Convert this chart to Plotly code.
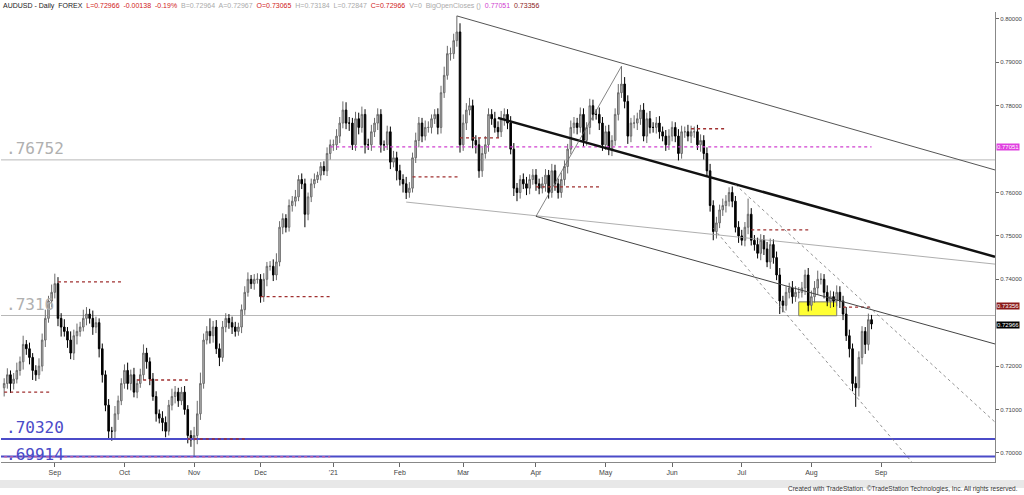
import pandas as pd
import plotly.graph_objects as go

# ---- daily closes, per month ----
aug20 = [.716,.718,.716,.717,.719,.721,.725,.724,.722,.719,.718,.720,.726,.731,.735,.737]
sep20 = [.739,.731,.729,.728,.726,.723,.727,.728,.729,.731,.732,.731,.729,.730,.724,.718,.711,.705,.705,.709,.712,.716]
oct20 = [.719,.716,.718,.714,.716,.718,.723,.721,.717,.713,.709,.708,.707,.705,.711,.713,.714,.712,.714,.710,.704,.703]
nov20 = [.704,.709,.716,.726,.728,.727,.729,.724,.722,.729,.731,.730,.729,.728,.729,.733,.737,.740,.739,.740,.740]
dec20 = [.736,.740,.743,.743,.741,.744,.752,.754,.752,.757,.758,.759,.763,.762,.755,.759,.762,.763,.764,.766,.765,.769,.771]
jan21 = [.771,.773,.776,.779,.776,.776,.771,.777,.775,.778,.771,.771,.774,.776,.778,.771,.771,.774,.767,.768,.765]
feb21 = [.763,.762,.760,.761,.768,.772,.776,.773,.775,.775,.777,.778,.775,.783,.787,.792,.792,.795,.797,.771]
mar21 = [.776,.779,.780,.772,.771,.765,.769,.771,.778,.777,.775,.774,.777,.778,.776,.770,.761,.760,.763,.762,.761,.763,.764]
apr21 = [.762,.761,.762,.764,.760,.765,.762,.760,.763,.766,.770,.775,.776,.775,.778,.772,.775,.780,.778,.778,.776,.771]
may21 = [.774,.770,.772,.778,.783,.785,.781,.773,.776,.776,.777,.779,.773,.777,.775,.775,.776,.774,.773,.771,.773]
jun21 = [.775,.773,.769,.774,.774,.773,.774,.774,.771,.772,.769,.765,.757,.751,.753,.756,.757,.758,.760,.758,.752,.750]
jul21 = [.749,.752,.755,.749,.748,.746,.749,.747,.744,.748,.745,.741,.735,.734,.737,.738,.736,.737,.737,.738,.741,.734]
aug21 = [.736,.738,.740,.740,.737,.735,.736,.735,.737,.735,.732,.727,.724,.716,.715,.722,.728,.725,.7307,.7297]

# upper / lower wick lengths in pips beyond the candle body
up_wick = [
 [12,15,10,14,18,12,20,10,14,10,12,18,15,20,12,18],
 [23,15,12,18,10,20,14,18,12,20,16,12,18,14,10,12,10,14,10,18,12,12],
 [14,18,12,16,10,14,20,12,10,14,12,10,16,14,12,18,14,10,12,14,10,12],
 [20,30,25,15,12,30,14,16,12,14,12,10,14,12,10,12,14,16,10,12,14],
 [12,14,10,12,16,20,14,12,10,14,12,16,10,14,12,10,12,14,8,10,12,14,12],
 [12,16,14,20,18,14,12,16,14,18,12,14,16,12,14,12,10,14,12,16,14],
 [14,12,16,14,12,18,14,12,16,14,10,12,14,16,20,18,14,16,37,20],
 [20,16,18,14,12,16,14,20,14,12,16,14,18,14,12,16,14,12,10,14,16,12,14],
 [14,12,16,14,12,16,14,12,16,14,12,16,14,12,16,14,12,16,14,12,16,14],
 [14,16,12,14,20,41,16,14,12,18,14,12,16,14,18,12,14,16,12,14,16],
 [14,12,16,14,12,16,14,12,16,14,12,14,16,12,14,12,16,14,12,14,12,14],
 [14,12,36,14,12,16,14,12,16,14,12,14,16,12,14,12,16,14,12,14,12,16],
 [14,16,20,14,12,16,14,12,16,14,12,16,14,12,16,14,12,10,14,11],
]
dn_wick = [
 [20,12,22,14,10,12,18,14,16,22,14,10,12,16,10,14],
 [14,18,22,12,18,14,16,20,12,10,16,12,18,14,20,18,14,16,22,18,14,10],
 [12,14,16,12,14,10,12,16,14,10,18,12,20,14,10,12,16,14,10,12,18,16],
 [39,20,14,12,10,18,16,12,20,10,12,14,16,12,10,14,12,10,12,14,10],
 [14,12,16,10,14,12,10,16,12,10,14,12,10,12,30,14,12,10,8,12,10,12,14],
 [14,12,16,12,14,18,12,14,16,12,20,12,14,12,16,18,14,12,16,12,22],
 [14,20,15,12,10,12,16,14,10,12,14,12,16,14,12,10,16,12,14,18],
 [14,16,12,18,20,16,14,12,16,14,12,14,12,16,14,12,18,20,14,12,16,14,12],
 [16,14,12,18,14,12,16,14,12,14,16,12,14,16,12,14,12,16,14,12,16,14],
 [12,14,16,12,14,12,16,18,14,12,16,14,12,16,14,12,14,16,12,14,12],
 [12,14,16,12,14,12,16,14,12,16,14,12,14,20,16,12,14,16,12,14,12,16],
 [12,14,16,12,14,12,16,14,12,16,14,12,30,16,12,14,16,12,14,12,16,14],
 [12,14,16,12,14,12,16,14,12,16,14,12,20,18,44,20,16,22,14,12],
]
first_open = 0.715
start_date = "2020-08-10"

tick_dates = ["2020-09-01","2020-10-01","2020-11-02","2020-12-01","2021-01-01","2021-02-01",
              "2021-03-01","2021-04-01","2021-05-03","2021-06-01","2021-07-01","2021-08-02","2021-09-01"]
tick_text = ["Sep","Oct","Nov","Dec","'21","Feb","Mar","Apr","May","Jun","Jul","Aug","Sep"]
y_ticks = [0.70, 0.71, 0.72, 0.74, 0.75, 0.76, 0.78, 0.79, 0.80]

# horizontal key levels
gray_levels = [0.76752, 0.73166]
blue_levels = [0.70320, 0.69914]
magenta_level = (["2020-12-31", "2021-08-27"], 0.77051)
red_seg_start = ["2020-08-10","2020-09-02","2020-10-07","2020-10-29","2020-12-01","2021-02-05","2021-02-26","2021-04-01","2021-06-09","2021-07-06","2021-08-16","2020-08-10"]
red_seg_end   = ["2020-08-31","2020-09-30","2020-10-29","2020-11-24","2020-12-31","2021-02-26","2021-03-17","2021-04-29","2021-06-24","2021-07-30","2021-08-27","2020-12-31"]
red_seg_price = [0.7140,0.7394,0.7168,0.7032,0.7360,0.7636,0.7726,0.7613,0.7747,0.7514,0.7336,0.6991]

# trend lines
tl_d0 = ["2021-02-25","2021-03-16","2021-02-03","2021-04-01","2021-04-01","2021-06-29","2021-06-18"]
tl_p0 = [0.8007,0.7772,0.7578,0.7545,0.7545,0.7618,0.7518]
tl_d1 = ["2021-10-21","2021-10-21","2021-10-21","2021-10-21","2021-05-10","2021-10-21","2021-09-16"]
tl_p1 = [0.7652,0.7452,0.7435,0.7251,0.7891,0.7071,0.6968]
tl_w  = [1,2.5,0.8,1,0.8,0.8,0.8]
tl_c  = ["#555","#111","#999","#444","#666","#777","#777"]
tl_dash = ["solid","solid","solid","solid","solid","dot","dot"]

zone = ("2021-07-27", "2021-08-12", 0.7316, 0.7348)

# ---- build OHLC ----
closes = sum([aug20,sep20,oct20,nov20,dec20,jan21,feb21,mar21,apr21,may21,jun21,jul21,aug21], [])
ups = sum(up_wick, [])
dns = sum(dn_wick, [])
dates = pd.bdate_range(start_date, periods=len(closes))
opens = [first_open] + closes[:-1]
highs = [max(o, c) + u/10000 for o, c, u in zip(opens, closes, ups)]
lows = [min(o, c) - d/10000 for o, c, d in zip(opens, closes, dns)]

fig = go.Figure()
fig.add_trace(go.Candlestick(
    x=dates, open=opens, high=highs, low=lows, close=closes,
    increasing=dict(fillcolor="#c4c4c4", line=dict(color="#6a6a6a", width=1)),
    decreasing=dict(fillcolor="#000000", line=dict(color="#000000", width=1)),
    whiskerwidth=0, showlegend=False, hoverinfo="skip"))

X0, X1 = "2020-08-07", "2021-10-21"
shapes = []
for lv in gray_levels:
    shapes.append(dict(type="line", xref="paper", x0=0, x1=1, yref="y", y0=lv, y1=lv,
                       line=dict(color="#b8b8b8", width=1), layer="below"))
for lv in blue_levels:
    shapes.append(dict(type="line", xref="paper", x0=0, x1=1, yref="y", y0=lv, y1=lv,
                       line=dict(color="#4b4bc8", width=2)))
for s, e, p in zip(red_seg_start, red_seg_end, red_seg_price):
    col = "#d060a0" if p < 0.70 else "#a03030"
    shapes.append(dict(type="line", xref="x", x0=s, x1=e, yref="y", y0=p, y1=p,
                       line=dict(color=col, width=1.3, dash="dot")))
shapes.append(dict(type="line", xref="x", x0=magenta_level[0][0], x1=magenta_level[0][1],
                   y0=magenta_level[1], y1=magenta_level[1],
                   line=dict(color="#d040d0", width=1.3, dash="dot")))
for d0, p0, d1, p1, w, c, ds in zip(tl_d0, tl_p0, tl_d1, tl_p1, tl_w, tl_c, tl_dash):
    shapes.append(dict(type="line", xref="x", x0=d0, x1=d1, y0=p0, y1=p1,
                       line=dict(color=c, width=w, dash=ds)))
shapes.append(dict(type="rect", xref="x", x0=zone[0], x1=zone[1], y0=zone[2], y1=zone[3],
                   fillcolor="#ffff33", line=dict(color="#777", width=1), layer="below"))
shapes.append(dict(type="rect", xref="paper", yref="paper", x0=-0.01, x1=1.03, y0=-0.058, y1=-0.040,
                   fillcolor="#e8e8e8", line=dict(width=0)))

ann = []
big = dict(family="DejaVu Sans Mono", size=16)
ann.append(dict(x=0.003, xref="paper", y=gray_levels[0], yref="y", text=".76752", showarrow=False,
                xanchor="left", yanchor="bottom", font=dict(color="#b0b0b0", **big)))
ann.append(dict(x=0.003, xref="paper", y=gray_levels[1], yref="y", text=".7316", showarrow=False,
                xanchor="left", yanchor="bottom", font=dict(color="#b0b0b0", **big)))
ann.append(dict(x=0.003, xref="paper", y=blue_levels[0], yref="y", text=".70320", showarrow=False,
                xanchor="left", yanchor="bottom", font=dict(color="#4b4bc8", **big)))
ann.append(dict(x=0.003, xref="paper", y=blue_levels[1] + 0.0004, yref="y", text=".69914", showarrow=False,
                xanchor="left", yanchor="middle", font=dict(color="#4b4bc8", **big)))
for val, yv, bg in [(0.77051, 0.77051, "#e040e0"), (0.73356, 0.73380, "#8b1a1a"), (0.72966, 0.72940, "#000000")]:
    ann.append(dict(x=1.001, xref="paper", y=yv, yref="y", text=f"{val:.5f}", showarrow=False,
                    xanchor="left", yanchor="middle", bgcolor=bg, borderpad=0,
                    font=dict(color="white", size=6, family="Liberation Sans")))
header = ("AUDUSD - Daily  FOREX  <span style='color:#d02020'>L=0.72966  -0.00138  -0.19%</span>  "
          "<span style='color:#aaa'>B=0.72964  A=0.72967</span>  <span style='color:#d02020'>O=0.73065</span>  "
          "<span style='color:#aaa'>H=0.73184  L=0.72847</span>  <span style='color:#d02020'>C=0.72966</span>  "
          "<span style='color:#aaa'>V=0  BigOpenCloses ()</span>  <span style='color:#d040d0'>0.77051</span>  "
          "<span style='color:#8b1a1a'>0.73356</span>")
ann.append(dict(x=0.0, xref="paper", y=1.0, yref="paper", text=header, showarrow=False,
                xanchor="left", yanchor="bottom", font=dict(size=7, color="#222", family="Liberation Sans")))
ann.append(dict(x=1.025, xref="paper", y=-0.0733, yref="paper",
                text="Created with TradeStation. ©TradeStation Technologies, Inc. All rights reserved.",
                showarrow=False, xanchor="right", yanchor="bottom",
                font=dict(size=6.5, color="#333", family="Liberation Sans")))

fig.update_layout(
    width=1024, height=495, margin=dict(l=1, r=26, t=12, b=33),
    paper_bgcolor="white", plot_bgcolor="white",
    shapes=shapes, annotations=ann,
    xaxis=dict(range=[X0, X1], rangeslider=dict(visible=False),
               rangebreaks=[dict(bounds=["sat", "mon"])],
               tickvals=tick_dates, ticktext=tick_text, ticks="outside", ticklen=4,
               tickcolor="#666", tickfont=dict(size=7, color="#444", family="Liberation Sans"),
               showgrid=False, showline=True, linecolor="#888", mirror=False, zeroline=False),
    yaxis=dict(range=[0.6979, 0.8016], side="right", tickvals=y_ticks,
               tickformat=".5f", ticks="outside", ticklen=3, tickcolor="#666",
               tickfont=dict(size=6, color="#444", family="Liberation Sans"),
               showgrid=False, showline=True, linecolor="#888", zeroline=False),
    font=dict(family="Liberation Sans"),
)
fig.write_html("out.html", config={"displayModeBar": False},
               post_script="document.body.style.margin='0';")
